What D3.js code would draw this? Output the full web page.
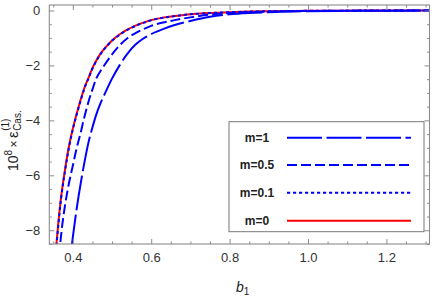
<!DOCTYPE html>
<html><head><meta charset="utf-8">
<script src="https://cdn.jsdelivr.net/npm/d3@7"></script>
<style>
html,body{margin:0;padding:0;background:#fff;}
svg{display:block;font-family:"Liberation Sans",Arial,sans-serif;}
</style></head>
<body>
<svg id="chart" width="436" height="297"></svg>
<script>
// ---- data ----
const bValues = [0.35,0.36,0.37,0.38,0.39,0.40,0.41,0.42,0.43,0.44,0.45,0.46,0.47,0.48,0.50,0.52,0.54,0.56,0.58,0.60,0.63,0.66,0.70,0.75,0.80,0.85,0.90,0.95,1.00,1.10,1.20,1.31];
const energyM1 = [-17.3,-14.9,-12.8,-11.0,-9.5,-8.25,-7.2,-6.3,-5.5,-4.8,-4.26,-3.78,-3.4,-3.08,-2.48,-1.98,-1.56,-1.24,-1.02,-0.86,-0.68,-0.53,-0.38,-0.23,-0.14,-0.09,-0.06,-0.04,-0.027,-0.013,-0.007,-0.0035];
const energyM05 = [-12.5,-10.0,-8.2,-7.1,-6.3,-5.65,-5.0,-4.45,-3.85,-3.32,-2.88,-2.47,-2.22,-2.0,-1.6,-1.26,-1.0,-0.82,-0.68,-0.56,-0.44,-0.35,-0.25,-0.15,-0.095,-0.06,-0.04,-0.027,-0.018,-0.009,-0.005,-0.0025];
const energyM01 = [-10.1,-8.3,-6.85,-5.85,-5.0,-4.33,-3.78,-3.28,-2.82,-2.47,-2.12,-1.84,-1.6,-1.41,-1.1,-0.875,-0.7,-0.56,-0.45,-0.355,-0.265,-0.205,-0.138,-0.092,-0.062,-0.041,-0.028,-0.019,-0.012,-0.006,-0.003,-0.0015];
const energyM0 = [-10.0,-8.2,-6.8,-5.8,-4.95,-4.3,-3.75,-3.25,-2.8,-2.45,-2.1,-1.82,-1.59,-1.40,-1.09,-0.866,-0.69,-0.55,-0.44,-0.35,-0.26,-0.20,-0.135,-0.09,-0.06,-0.04,-0.027,-0.018,-0.012,-0.006,-0.003,-0.0015];
const seriesLabels = ["m=1","m=0.5","m=0.1","m=0"];
const xTickValues = [0.4,0.6,0.8,1.0,1.2];
const xTickLabels = ["0.4","0.6","0.8","1.0","1.2"];
const yTickValues = [0,-2,-4,-6,-8];
const yTickLabels = ["0","\u22122","\u22124","\u22126","\u22128"];

// ---- layout ----
const svg = d3.select("#chart");
const L = 49.3, R = 429.5, T = 5, B = 244;
const x = d3.scaleLinear().domain([0.34, 1.31]).range([L, R]);
const y = d3.scaleLinear().domain([-8.5, 0.2]).range([B, T]);
const frameColor = "#8c8c8c";

const styles = [
  {color:"#0000ff", dash:"35,4.5", width:2},
  {color:"#0000ff", dash:"10,4", width:2},
  {color:"#0000ff", dash:"3.2,2.8", width:2},
  {color:"#ff0000", dash:null, width:2}
];
const series = [energyM1, energyM05, energyM01, energyM0];

svg.append("defs").append("clipPath").attr("id","clip")
  .append("rect").attr("x",L).attr("y",T).attr("width",R-L).attr("height",B-T);

const line = d3.line().x(d=>x(d[0])).y(d=>y(d[1])).curve(d3.curveCatmullRom.alpha(0.5));
const drawOrder = [3,2,1,0];
const g = svg.append("g").attr("clip-path","url(#clip)");
drawOrder.forEach(i=>{
  const pts = bValues.map((b,k)=>[b, series[i][k]]);
  g.append("path").attr("d", line(pts))
    .attr("fill","none").attr("stroke",styles[i].color)
    .attr("stroke-width",styles[i].width)
    .attr("stroke-dasharray",styles[i].dash);
});

// ---- axes (frame with inward ticks) ----
const xMinor = d3.range(0.35, 1.3101, 0.05).map(v=>+v.toFixed(2)).filter(v=>!xTickValues.some(t=>Math.abs(t-v)<1e-6));
const yMinor = d3.range(-8.5, 0.01, 0.5).map(v=>+v.toFixed(2)).filter(v=>!yTickValues.some(t=>Math.abs(t-v)<1e-6));

function axisStyle(sel){
  sel.select(".domain").remove();
  sel.selectAll("line").attr("stroke",frameColor).attr("stroke-width",1);
  sel.selectAll("text").attr("fill","#333").style("font-size","13px").style("font-family","'Liberation Sans',Arial,sans-serif");
}
svg.append("g").attr("transform",`translate(0,${B})`)
  .call(d3.axisBottom(x).tickValues(xTickValues).tickFormat((d,i)=>xTickLabels[i]).tickSizeInner(-5).tickSizeOuter(0).tickPadding(9))
  .call(axisStyle);
svg.append("g").attr("transform",`translate(0,${B})`)
  .call(d3.axisBottom(x).tickValues(xMinor).tickFormat("").tickSizeInner(-2.5).tickSizeOuter(0))
  .call(axisStyle);
svg.append("g").attr("transform",`translate(0,${T})`)
  .call(d3.axisTop(x).tickValues(xTickValues).tickFormat("").tickSizeInner(-5).tickSizeOuter(0))
  .call(axisStyle);
svg.append("g").attr("transform",`translate(0,${T})`)
  .call(d3.axisTop(x).tickValues(xMinor).tickFormat("").tickSizeInner(-2.5).tickSizeOuter(0))
  .call(axisStyle);
svg.append("g").attr("transform",`translate(${L},0)`)
  .call(d3.axisLeft(y).tickValues(yTickValues).tickFormat((d,i)=>yTickLabels[i]).tickSizeInner(-5).tickSizeOuter(0).tickPadding(9))
  .call(axisStyle);
svg.append("g").attr("transform",`translate(${L},0)`)
  .call(d3.axisLeft(y).tickValues(yMinor).tickFormat("").tickSizeInner(-2.5).tickSizeOuter(0))
  .call(axisStyle);
svg.append("g").attr("transform",`translate(${R},0)`)
  .call(d3.axisRight(y).tickValues(yTickValues).tickFormat("").tickSizeInner(-5).tickSizeOuter(0))
  .call(axisStyle);
svg.append("g").attr("transform",`translate(${R},0)`)
  .call(d3.axisRight(y).tickValues(yMinor).tickFormat("").tickSizeInner(-2.5).tickSizeOuter(0))
  .call(axisStyle);
svg.append("rect").attr("x",L).attr("y",T).attr("width",R-L).attr("height",B-T)
  .attr("fill","none").attr("stroke",frameColor).attr("stroke-width",1.1);

// ---- axis titles ----
const xt = svg.append("text").attr("x",236).attr("y",292).attr("fill","#222")
  .style("font-size","14px");
xt.append("tspan").text("b").style("font-style","italic");
xt.append("tspan").text("1").attr("dy",3).style("font-size","10px");

const yt = svg.append("g").attr("transform","translate(17.5,171) rotate(-90)");
const t1 = yt.append("text").attr("x",0).attr("y",0).attr("fill","#222").style("font-size","14px");
t1.append("tspan").text("10");
t1.append("tspan").text("8").attr("dy",-6).style("font-size","10px");
t1.append("tspan").text("\u2009\u00d7\u2009").attr("dy",6).style("font-size","12px");
t1.append("tspan").text("\u03b5").style("font-size","15px");
const w1 = t1.node().getComputedTextLength();
yt.append("text").attr("x",w1+0.5).attr("y",-9).attr("fill","#222").style("font-size","10px").text("(1)");
yt.append("text").attr("x",w1+0.5).attr("y",3).attr("fill","#222").style("font-size","10px").text("Cas.");

// ---- legend ----
const lg = svg.append("g");
lg.append("rect").attr("x",229).attr("y",121.7).attr("width",195).attr("height",110)
  .attr("fill","#fff").attr("stroke","#777").attr("stroke-width",1);
const legY = [137.7,165,192.7,220.7];
seriesLabels.forEach((lab,i)=>{
  lg.append("text").attr("x",257).attr("y",legY[i]+4).attr("text-anchor","middle")
    .style("font-size","12px").style("font-weight","bold").attr("fill","#222").text(lab);
  lg.append("line").attr("x1",287).attr("x2",411).attr("y1",legY[i]).attr("y2",legY[i])
    .attr("stroke",styles[i].color).attr("stroke-width",2).attr("stroke-dasharray",styles[i].dash);
});
</script>
</body></html>
